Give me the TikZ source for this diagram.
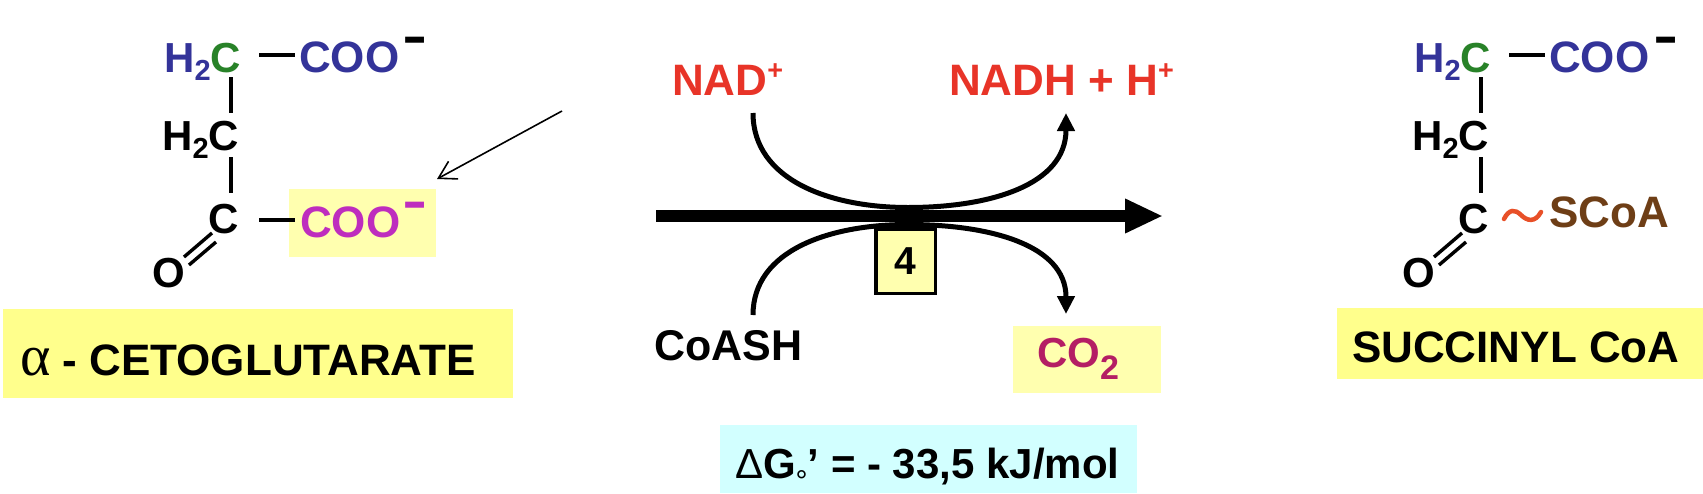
\documentclass[tikz,border=0pt]{standalone}
\usepackage{fontspec}
\setmainfont{Liberation Sans}
\newfontfamily\greekserif{Liberation Serif}
\usetikzlibrary{arrows.meta}
\definecolor{molblue}{RGB}{51,51,153}
\definecolor{molgreen}{RGB}{40,130,40}
\definecolor{molmag}{RGB}{190,45,190}
\definecolor{nadred}{RGB}{232,52,40}
\definecolor{scoabrown}{RGB}{110,62,22}
\definecolor{wavered}{RGB}{232,80,40}
\definecolor{cotwored}{RGB}{180,30,100}
\definecolor{labyellow}{RGB}{255,255,140}
\definecolor{paleyellow}{RGB}{255,255,175}
\definecolor{cyanbox}{RGB}{210,255,255}
\newcommand{\subtwo}{\raisebox{-8pt}{\fontsize{29}{29}\selectfont 2}}
\newcommand{\supplus}{\raisebox{16pt}{\fontsize{27}{27}\selectfont +}}
\newcommand{\chargebar}{\scalebox{1}[1.6]{–}}
\begin{document}
\begin{tikzpicture}[x=1pt,y=-1pt,
  every node/.style={inner sep=0pt,outer sep=0pt},
  atom/.style={font=\fontsize{42}{50}\selectfont\bfseries},
  group/.style={font=\fontsize{44}{50}\selectfont\bfseries},
  lbl/.style={font=\fontsize{44}{52}\selectfont\bfseries},
  charge/.style={font=\fontsize{38}{38}\selectfont\bfseries, anchor=base},
  bond/.style={line width=3.4pt},
  curve/.style={line width=5pt},
  smallhead/.style={-{Triangle[length=18pt,width=17pt]}},
]
\useasboundingbox (0,0) rectangle (1703,493);

% ---------- highlight and label boxes ----------
\fill[paleyellow] (289,189) rectangle (436,257);
\fill[labyellow] (3,309) rectangle (513,398);
\fill[labyellow] (1337,308) rectangle (1703,379);
\fill[paleyellow] (1013,326) rectangle (1161,393);
\fill[cyanbox] (720,425) rectangle (1137,493);

% ---------- left molecule ----------
\node[atom, anchor=base east, text=molgreen] (la1) at (241,72) {\textcolor{molblue}{H\subtwo}C};
\node[group, anchor=base west, text=molblue] (lcoo1) at (299,72) {COO};
\node[charge] (lm1) at (415,56) {\chargebar};
\node[atom, anchor=base east] (la2) at (239,150) {H\subtwo C};
\node[atom, anchor=base east] (la3) at (239,233) {C};
\node[atom, anchor=base west] (lo) at (152,287) {O};
\node[group, anchor=base west, text=molmag] (lcoo2) at (300,237) {COO};
\node[charge, text=molmag] (lm2) at (415,221) {\chargebar};
\draw[bond] (259,55) -- (295,55);
\draw[bond] (231,77) -- (231,113);
\draw[bond] (231,157) -- (231,193);
\draw[bond] (259,220) -- (295,220);
\draw[bond] (184,257) -- (212,233);
\draw[bond] (189,265) -- (216,242);

% ---------- right molecule ----------
\begin{scope}[xshift=1250pt]
\node[atom, anchor=base east, text=molgreen] (ra1) at (241,72) {\textcolor{molblue}{H\subtwo}C};
\node[group, anchor=base west, text=molblue] (rcoo1) at (299,72) {COO};
\node[charge] (rm1) at (416,56) {\chargebar};
\node[atom, anchor=base east] (ra2) at (239,150) {H\subtwo C};
\node[atom, anchor=base east] (ra3) at (239,233) {C};
\node[atom, anchor=base west] (ro) at (152,287) {O};
\draw[bond] (259,55) -- (295,55);
\draw[bond] (231,77) -- (231,113);
\draw[bond] (231,157) -- (231,193);
\draw[bond] (184,257) -- (212,233);
\draw[bond] (189,265) -- (216,242);
\end{scope}
\node[group, anchor=base west, text=scoabrown] (scoa) at (1549,227) {SCoA};
\draw[wavered, line width=4.5pt, line cap=round] (1504,219) .. controls (1509,209) and (1515,209) .. (1521,215) .. controls (1527,221) and (1535,223) .. (1541,212);

% ---------- pointer arrow ----------
\coordinate (ptrtail) at (562,111);
\coordinate (ptrtip) at (437,179);
\draw[line width=1.6pt, -{Straight Barb[length=17pt,width=20pt]}] (ptrtail) -- (ptrtip);

% ---------- reaction ----------
\node[font=\fontsize{44}{52}\selectfont\bfseries, text=nadred, anchor=base west] (nad) at (672,95) {NAD\supplus};
\node[font=\fontsize{44}{52}\selectfont\bfseries, text=nadred, anchor=base west] (nadh) at (949,95) {NADH + H\supplus};
\node[font=\fontsize{43}{52}\selectfont\bfseries, anchor=base west] (coash) at (654,360) {CoASH};
\node[font=\fontsize{42}{42}\selectfont\bfseries, text=cotwored, anchor=base west] (co2) at (1037,367) {CO\raisebox{-12pt}{\fontsize{34}{34}\selectfont 2}};

\coordinate (nadin) at (753,113);
\coordinate (nadhout) at (1066,113);
\coordinate (coain) at (753,315);
\coordinate (co2out) at (1066,314);
\draw[curve, smallhead] (nadin) .. controls (753,180) and (830,207.5) .. (908,207.5) .. controls (990,207.5) and (1066,185) .. (nadhout);
\draw[curve, smallhead] (coain) .. controls (753,250) and (830,224.5) .. (908,224.5) .. controls (990,224.5) and (1066,245) .. (co2out);

\coordinate (rstart) at (656,216);
\coordinate (rend) at (1163,216);
\draw[line width=12pt, -{Triangle[length=38pt,width=32pt]}] (rstart) -- (rend);

\node[draw, line width=3.5pt, fill=paleyellow, minimum width=59.5pt, minimum height=64.5pt, font=\fontsize{39}{39}\selectfont\bfseries] (enzyme) at (905.5,261) {4};

% ---------- labels ----------
\node[lbl, anchor=base west] (alab) at (20,375) {{\greekserif\mdseries\fontsize{58}{58}\selectfont α} - CETOGLUTARATE};
\node[lbl, anchor=base west] (slab) at (1352,362) {SUCCINYL CoA};
\node[font=\fontsize{42}{42}\selectfont\bfseries, anchor=base west] (dg) at (735,478) {{\mdseries Δ}G\raisebox{-13pt}[0pt][0pt]{\fontsize{30}{30}\selectfont\mdseries °}’ = - 33,5 kJ/mol};
\end{tikzpicture}
\end{document}
